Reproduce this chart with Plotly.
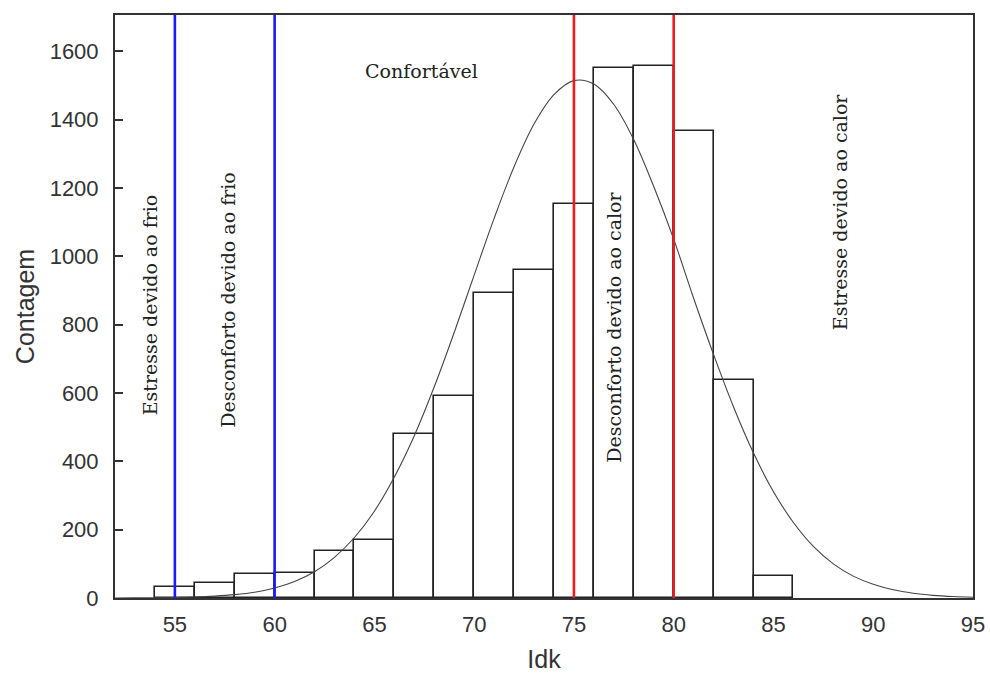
import plotly.graph_objects as go

# Histogram bins (left edges, width 2) and counts
bin_left = [54, 56, 58, 60, 62, 64, 66, 68, 70, 72, 74, 76, 78, 80, 82, 84]
bin_width = 2
counts = [31, 45, 69, 73, 137, 170, 480, 591, 893, 960, 1152, 1550, 1556, 1367, 638, 65]

# Fitted normal curve
curve_x = [52, 53, 54, 55, 56, 57, 58, 59, 60, 61, 62, 63, 64, 65, 66, 67, 68, 69, 70, 71, 72, 73,
           74, 75, 76, 77, 78, 79, 80, 81, 82, 83, 84, 85, 86, 87, 88, 89, 90, 91, 92, 93, 94, 95]
curve_y = [0.1, 0.3, 0.7, 1.5, 2.9, 5.5, 9.8, 17, 29.5, 48.5, 77, 119, 177, 254, 354, 475, 618, 777,
           945, 1111, 1262, 1387, 1473, 1514, 1504, 1444, 1341, 1204, 1050, 877, 712, 559, 424, 311,
           221, 151, 100, 64, 40, 24, 14, 7.8, 4.2, 2.2]

# Threshold lines
cold_limits = [55, 60]
heat_limits = [75, 80]

# Zone labels
zone_labels = ["Estresse devido ao frio", "Desconforto devido ao frio", "Confortável",
               "Desconforto devido ao calor", "Estresse devido ao calor"]
zone_x = [53.8, 57.65, 67.38, 77.0, 88.35]
zone_y = [859, 872, 1543, 793, 1130]
zone_angle = [-90, -90, 0, -90, -90]

x_ticks = [55, 60, 65, 70, 75, 80, 85, 90, 95]
y_ticks = [0, 200, 400, 600, 800, 1000, 1200, 1400, 1600]

fig = go.Figure()
fig.add_trace(go.Bar(
    x=[b + bin_width / 2 for b in bin_left], y=counts, width=[bin_width] * len(counts),
    marker=dict(color="white", line=dict(color="#222222", width=1.6)),
    showlegend=False, hoverinfo="x+y"))
fig.add_trace(go.Scatter(
    x=curve_x, y=curve_y, mode="lines", line=dict(color="#444444", width=1.1, shape="spline"),
    showlegend=False))

for v in cold_limits:
    fig.add_shape(type="line", xref="x", yref="paper", x0=v, x1=v, y0=0, y1=1,
                  line=dict(color="#1a1aff", width=2.6), layer="above")
for v in heat_limits:
    fig.add_shape(type="line", xref="x", yref="paper", x0=v, x1=v, y0=0, y1=1,
                  line=dict(color="#ee1c1c", width=2.6), layer="above")

for t, xx, yy, a in zip(zone_labels, zone_x, zone_y, zone_angle):
    fig.add_annotation(x=xx, y=yy, text=t, textangle=a, showarrow=False,
                       font=dict(family="DejaVu Serif", size=19, color="#222222"))

axis_common = dict(showline=True, linecolor="#333333", linewidth=2, mirror=True,
                   showgrid=False, zeroline=False, automargin=False,
                   tickfont=dict(family="Liberation Sans", size=22, color="#333333"))

fig.update_layout(
    width=990, height=673, margin=dict(l=115, r=17, t=15, b=75),
    paper_bgcolor="white", plot_bgcolor="white", bargap=0,
    xaxis=dict(range=[52, 95], tickvals=x_ticks, ticks="", ticklabelstandoff=6,
               title=dict(text="Idk", font=dict(family="Liberation Sans", size=25, color="#333333"),
                          standoff=18),
               **axis_common),
    yaxis=dict(range=[0, 1706], tickvals=y_ticks, ticks="inside", ticklen=8, tickwidth=2,
               tickcolor="#333333", ticklabelstandoff=10,
               title=dict(text="Contagem", font=dict(family="Liberation Sans", size=25, color="#333333"),
                          standoff=8),
               **axis_common),
)

fig.write_html("out.html")
